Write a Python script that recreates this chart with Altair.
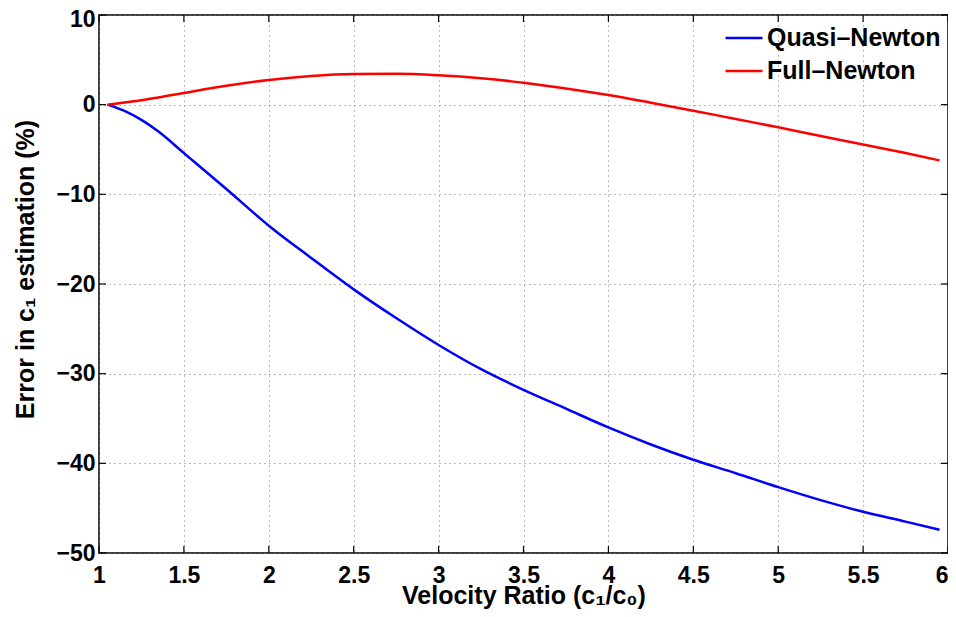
import altair as alt
import pandas as pd

# --- data ---
x_vals = [1.05, 1.15, 1.25, 1.35, 1.5, 1.75, 2.0, 2.25, 2.5, 2.75, 3.0, 3.25,
          3.5, 3.75, 4.0, 4.25, 4.5, 4.75, 5.0, 5.25, 5.5, 5.75, 5.95]
quasi_newton = [0.0, -0.7, -1.7, -3.0, -5.4, -9.4, -13.5, -17.1, -20.6, -23.8,
                -26.8, -29.5, -31.8, -33.9, -36.0, -37.9, -39.6, -41.1, -42.65,
                -44.1, -45.4, -46.5, -47.4]
full_newton = [0.0, 0.25, 0.5, 0.8, 1.3, 2.1, 2.75, 3.2, 3.42, 3.45, 3.28, 2.95,
               2.45, 1.8, 1.08, 0.22, -0.67, -1.6, -2.52, -3.5, -4.44, -5.4, -6.22]
series_names = ["Quasi\u2013Newton", "Full\u2013Newton"]
x_ticks = [1, 1.5, 2, 2.5, 3, 3.5, 4, 4.5, 5, 5.5, 6]
y_ticks = [-50, -40, -30, -20, -10, 0, 10]

W, H = 849, 538
FONT = "Liberation Sans"

rows = []
for name, ys in zip(series_names, [quasi_newton, full_newton]):
    for xv, yv in zip(x_vals, ys):
        rows.append({"x": xv, "y": yv, "series": name})
df = pd.DataFrame(rows)

xscale = alt.Scale(domain=[1, 6], nice=False, zero=False)
yscale = alt.Scale(domain=[-50, 10], nice=False, zero=False)
xaxis = alt.Axis(values=x_ticks, format=".1~f", title="Velocity Ratio (c\u2081/c\u2080)",
                 labelAlign={"condition": {"test": "datum.value == 6", "value": "right"},
                             "value": "center"})
yaxis = alt.Axis(values=y_ticks, format=".1~f", title="Error in c\u2081 estimation (%)",
                 titleY=254,
                 labelOffset={"condition": {"test": "datum.value == 10", "value": 4},
                              "value": 0})

lines = alt.Chart(df).mark_line(strokeWidth=2.5, interpolate="monotone").encode(
    x=alt.X("x:Q", scale=xscale, axis=xaxis),
    y=alt.Y("y:Q", scale=yscale, axis=yaxis),
    color=alt.Color("series:N",
                    scale=alt.Scale(domain=series_names, range=["#0000FF", "#FF0000"]),
                    legend=alt.Legend(title=None, orient="none", legendX=625, legendY=3,
                                      symbolType="stroke", symbolSize=1369,
                                      symbolStrokeWidth=2.5, labelFont=FONT,
                                      labelFontSize=25, labelFontWeight="bold",
                                      labelColor="black", labelOffset=3,
                                      labelLimit=400, rowPadding=-9)),
)

xt = pd.DataFrame({"x": x_ticks})
yt = pd.DataFrame({"y": y_ticks})
tick_color = "black"
bottom = alt.Chart(xt).mark_rule(color=tick_color, strokeWidth=1.2).encode(
    x=alt.X("x:Q", scale=xscale, axis=xaxis), y=alt.value(H), y2=alt.value(H - 7))
top = alt.Chart(xt).mark_rule(color=tick_color, strokeWidth=1.2).encode(
    x=alt.X("x:Q", scale=xscale, axis=xaxis), y=alt.value(0), y2=alt.value(7))
left = alt.Chart(yt).mark_rule(color=tick_color, strokeWidth=1.2).encode(
    y=alt.Y("y:Q", scale=yscale, axis=yaxis), x=alt.value(0), x2=alt.value(7))
right = alt.Chart(yt).mark_rule(color=tick_color, strokeWidth=1.2).encode(
    y=alt.Y("y:Q", scale=yscale, axis=yaxis), x=alt.value(W), x2=alt.value(W - 7))

chart = alt.layer(lines, bottom, top, left, right).properties(
    width=W, height=H,
    autosize=alt.AutoSizeParams(type="none"),
    padding={"left": 91, "top": 7, "right": 0, "bottom": 56},
).configure_view(
    stroke="black", strokeWidth=1.5
).configure_axis(
    domain=False, ticks=False,
    grid=True, gridColor="#777777", gridDash=[1, 4], gridWidth=1, gridOpacity=1,
    labelFont=FONT, labelFontSize=23, labelFontWeight="bold", labelColor="black",
    titleFont=FONT, titleFontSize=25, titleFontWeight="bold", titleColor="black",
).configure_axisX(
    labelPadding=11, titlePadding=-4
).configure_axisY(
    labelPadding=4, titlePadding=17
)

chart.save("out.html", embed_options={"renderer": "svg", "actions": False})
